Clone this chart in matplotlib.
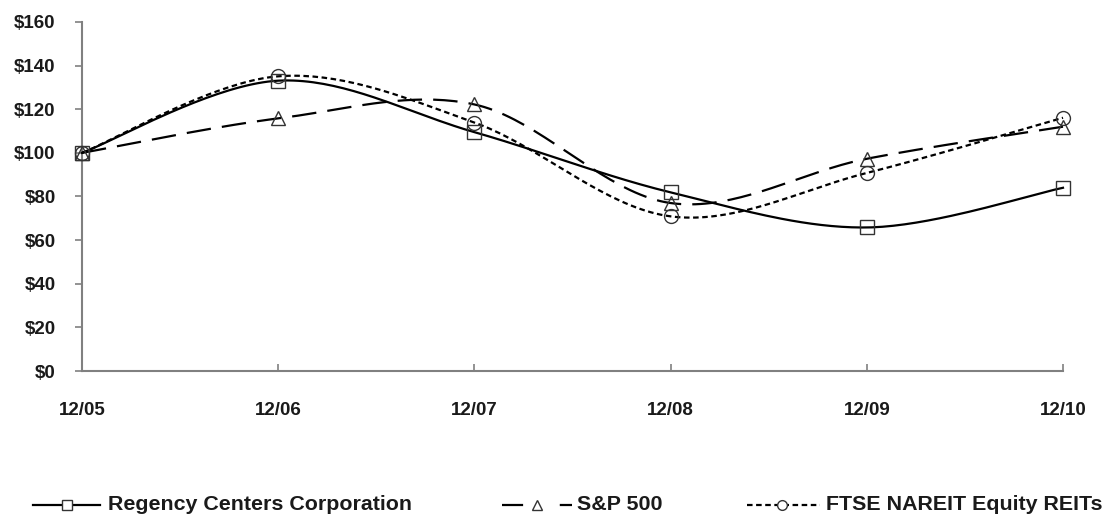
import numpy as np
import matplotlib
matplotlib.use("Agg")
import matplotlib.pyplot as plt
from matplotlib.lines import Line2D

plt.rcParams['font.family'] = ['Liberation Sans', 'DejaVu Sans']

categories = ["12/05", "12/06", "12/07", "12/08", "12/09", "12/10"]
regency = [100, 133.1, 109.5, 81.9, 65.8, 84.0]
sp500 = [100, 115.8, 122.2, 77.0, 97.3, 112.0]
nareit = [100, 135.1, 113.9, 70.9, 90.8, 116.1]
yticks = [0, 20, 40, 60, 80, 100, 120, 140, 160]
names = ["Regency Centers Corporation", "S&P 500", "FTSE NAREIT Equity REITs"]

W, H = 1106, 515


def smooth(xs, ys, n=40):
    pts = np.column_stack([xs, ys]).astype(float)
    out = [pts[0]]
    for i in range(len(pts) - 1):
        p0 = pts[i - 1] if i > 0 else pts[i]
        p1 = pts[i]
        p2 = pts[i + 1]
        p3 = pts[i + 2] if i + 2 < len(pts) else pts[i + 1]
        c1 = p1 + (p2 - p0) / 6.0
        c2 = p2 - (p3 - p1) / 6.0
        t = np.linspace(0, 1, n)[1:, None]
        seg = ((1 - t) ** 3) * p1 + 3 * ((1 - t) ** 2) * t * c1 + 3 * (1 - t) * t ** 2 * c2 + t ** 3 * p2
        out.extend(seg)
    out = np.array(out)
    return out[:, 0], out[:, 1]


fig = plt.figure(figsize=(W / 100, H / 100), dpi=100)
ax = fig.add_axes([82 / W, 1 - 371 / H, (1063 - 82) / W, (371 - 22) / H])

x = np.arange(len(categories))
styles = [
    dict(marker='s', dash=None),
    dict(marker='^', dash=(11, 5)),
    dict(marker='o', dash=(2.5, 1.6)),
]
series = [regency, sp500, nareit]
for vals, st in zip(series, styles):
    sx, sy = smooth(x, vals)
    kw = dict(color='black', lw=1.6, clip_on=False, zorder=3)
    if st['dash'] is not None:
        kw['dashes'] = st['dash']
    ax.plot(sx, sy, **kw)
    ax.plot(x, vals, ls='none', marker=st['marker'], ms=10, mfc='none',
            mec='#333333', mew=1.0, clip_on=False, zorder=4)

ax.set_xlim(0, 5)
ax.set_ylim(0, 160)
ax.set_yticks(yticks)
ax.set_yticklabels([f"${v}" for v in yticks])
ax.set_xticks(x)
ax.set_xticklabels(categories)
for s in ['top', 'right']:
    ax.spines[s].set_visible(False)
for s in ['left', 'bottom']:
    ax.spines[s].set_color('#808080')
    ax.spines[s].set_linewidth(1.5)
ax.tick_params(axis='y', direction='out', length=5, color='#808080', width=1.2,
               labelsize=13.5, pad=14)
ax.tick_params(axis='x', direction='in', length=5, color='#808080', width=1.2,
               labelsize=13.5, pad=22)
for lab in ax.get_xticklabels() + ax.get_yticklabels():
    lab.set_fontweight('bold')
    lab.set_color('#1a1a1a')

# legend drawn manually in figure pixel coordinates
ly = 1 - 505 / H
legend_items = [
    # (line start, line end, marker x, text x)
    (33, 100, 67, 108),
    (502, 572, 537, 577),
    (747, 820, 782, 826),
]
leg_dashes = [None, (9.5, 16.5), (2.5, 1.6)]
for (xa, xb, xm, xt), st, ld, nm in zip(legend_items, styles, leg_dashes, names):
    kw = dict(color='black', lw=1.6, transform=fig.transFigure)
    if ld is not None:
        kw['dashes'] = ld
    fig.add_artist(Line2D([xa / W, xb / W], [ly, ly], **kw))
    fig.add_artist(Line2D([xm / W], [ly], ls='none', marker=st['marker'], ms=7,
                          mfc='white', mec='#333333', mew=1.0,
                          transform=fig.transFigure))
    fig.text(xt / W, ly, nm, ha='left', va='center', fontsize=15.4,
             fontweight='bold', color='#1a1a1a')

fig.savefig("out.png", dpi=100)
